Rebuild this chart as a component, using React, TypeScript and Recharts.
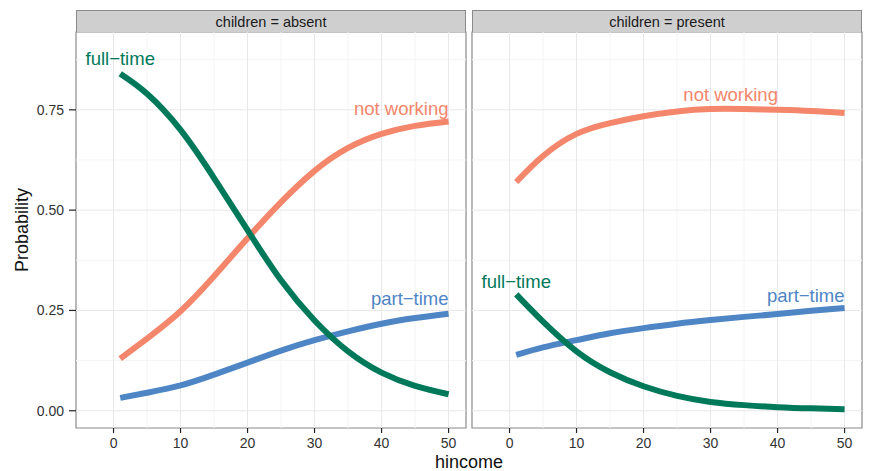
import React from 'react';
import { LineChart, Line, XAxis, YAxis, ReferenceLine, ReferenceArea, ReferenceDot } from 'recharts';

const hincome = [1, 5, 10, 15, 20, 25, 30, 35, 40, 45, 50];

const absentFull = [0.84, 0.79, 0.70, 0.58, 0.45, 0.325, 0.225, 0.148, 0.095, 0.062, 0.041];
const absentNot = [0.13, 0.18, 0.248, 0.335, 0.43, 0.52, 0.598, 0.655, 0.69, 0.71, 0.721];
const absentPart = [0.032, 0.045, 0.063, 0.09, 0.12, 0.15, 0.176, 0.198, 0.217, 0.231, 0.242];

const presentFull = [0.29, 0.222, 0.148, 0.096, 0.061, 0.037, 0.022, 0.014, 0.009, 0.006, 0.004];
const presentNot = [0.57, 0.635, 0.69, 0.717, 0.734, 0.746, 0.752, 0.752, 0.75, 0.747, 0.742];
const presentPart = [0.139, 0.158, 0.176, 0.193, 0.206, 0.217, 0.226, 0.234, 0.241, 0.249, 0.256];

const xTicks = [0, 10, 20, 30, 40, 50];
const xMinor = [5, 15, 25, 35, 45];
const yTicks = [0, 0.25, 0.5, 0.75];
const yMinor = [0.125, 0.375, 0.625, 0.875];
const yTickLabels = ['0.00', '0.25', '0.50', '0.75'];

const xDomain: [number, number] = [-5.6, 52.6];
const yDomain: [number, number] = [-0.043, 0.944];

const GREEN = '#00795A';
const CORAL = '#F4866B';
const BLUE = '#4E85C5';

type Lab = { text: string; x: number; y: number; anchor: 'start' | 'middle' | 'end'; color: string };

const absentLabels: Lab[] = [
  { text: 'full\u2212time', x: 1, y: 0.879, anchor: 'middle', color: GREEN },
  { text: 'not working', x: 50, y: 0.754, anchor: 'end', color: CORAL },
  { text: 'part\u2212time', x: 50, y: 0.279, anchor: 'end', color: BLUE },
];
const presentLabels: Lab[] = [
  { text: 'not working', x: 33, y: 0.787, anchor: 'middle', color: CORAL },
  { text: 'full\u2212time', x: 1, y: 0.323, anchor: 'middle', color: GREEN },
  { text: 'part\u2212time', x: 50, y: 0.288, anchor: 'end', color: BLUE },
];

const FONT = '"Liberation Sans", Arial, Helvetica, sans-serif';

function build(full: number[], not: number[], part: number[]) {
  return hincome.map((h, i) => ({ hincome: h, full: full[i], not: not[i], part: part[i] }));
}

function Panel(props: {
  data: any[];
  labels: Lab[];
  showY: boolean;
  width: number;
  margin: any;
}) {
  const { data, labels, showY, width, margin } = props;
  return (
    <LineChart width={width} height={471} data={data} margin={margin}>
      <XAxis
        dataKey="hincome"
        type="number"
        domain={xDomain}
        ticks={xTicks}
        allowDataOverflow
        axisLine={false}
        tickSize={5}
        tickMargin={5}
        height={30}
        tickLine={{ stroke: '#222', strokeWidth: 1.2 }}
        tick={{ fill: '#333', fontSize: 14, fontFamily: FONT }}
      />
      <YAxis
        type="number"
        domain={yDomain}
        ticks={yTicks}
        allowDataOverflow
        hide={!showY}
        width={76}
        axisLine={false}
        tickSize={7}
        tickMargin={5}
        tickFormatter={(v: number) => yTickLabels[yTicks.indexOf(v)] ?? String(v)}
        tickLine={{ stroke: '#222', strokeWidth: 1.2 }}
        tick={{ fill: '#333', fontSize: 14, fontFamily: FONT }}
      />
      {xMinor.map((v) => (
        <ReferenceLine key={'xm' + v} x={v} stroke="#f4f4f4" strokeWidth={1} />
      ))}
      {yMinor.map((v) => (
        <ReferenceLine key={'ym' + v} y={v} stroke="#f4f4f4" strokeWidth={1} />
      ))}
      {xTicks.map((v) => (
        <ReferenceLine key={'x' + v} x={v} stroke="#e8e8e8" strokeWidth={1} />
      ))}
      {yTicks.map((v) => (
        <ReferenceLine key={'y' + v} y={v} stroke="#e8e8e8" strokeWidth={1} />
      ))}
      <ReferenceArea
        x1={xDomain[0]}
        x2={xDomain[1]}
        y1={yDomain[0]}
        y2={yDomain[1]}
        fill="none"
        fillOpacity={0}
        stroke="#8a8a8a"
        strokeWidth={1.2}
      />
      <Line type="natural" dataKey="not" stroke={CORAL} strokeWidth={6} dot={false} isAnimationActive={false} />
      <Line type="natural" dataKey="part" stroke={BLUE} strokeWidth={6} dot={false} isAnimationActive={false} />
      <Line type="natural" dataKey="full" stroke={GREEN} strokeWidth={6} dot={false} isAnimationActive={false} />
      {labels.map((l) => (
        <ReferenceDot
          key={l.text}
          x={l.x}
          y={l.y}
          r={1}
          shape={(p: any) => (
            <text
              x={p.cx}
              y={p.cy}
              textAnchor={l.anchor}
              dominantBaseline="central"
              fill={l.color}
              fontSize={18.5}
              fontFamily={FONT}
            >
              {l.text}
            </text>
          )}
        />
      ))}
    </LineChart>
  );
}

function Strip(props: { left: number; width: number; text: string }) {
  return (
    <div
      style={{
        position: 'absolute',
        left: props.left,
        top: 10,
        width: props.width,
        height: 22,
        boxSizing: 'border-box',
        background: '#cfcfcf',
        border: '1.2px solid #8a8a8a',
        borderBottom: 'none',
        display: 'flex',
        alignItems: 'center',
        justifyContent: 'center',
        fontSize: 14.5,
        color: '#1a1a1a',
        fontFamily: FONT,
      }}
    >
      {props.text}
    </div>
  );
}

export default function App() {
  return (
    <div
      style={{
        position: 'absolute',
        left: 0,
        top: 0,
        width: 873,
        height: 471,
        background: '#fff',
        overflow: 'hidden',
        fontFamily: FONT,
      }}
    >
      <div style={{ position: 'absolute', left: 0, top: 0 }}>
        <Panel
          data={build(absentFull, absentNot, absentPart)}
          labels={absentLabels}
          showY
          width={470}
          margin={{ top: 32, right: 4, bottom: 13, left: 0 }}
        />
      </div>
      <div style={{ position: 'absolute', left: 470, top: 0 }}>
        <Panel
          data={build(presentFull, presentNot, presentPart)}
          labels={presentLabels}
          showY={false}
          width={403}
          margin={{ top: 32, right: 11, bottom: 13, left: 2 }}
        />
      </div>
      <Strip left={76} width={390} text="children = absent" />
      <Strip left={472} width={390} text="children = present" />
      <div
        style={{
          position: 'absolute',
          left: 22,
          top: 230,
          transform: 'translate(-50%, -50%) rotate(-90deg)',
          fontSize: 18,
          color: '#111',
          whiteSpace: 'nowrap',
        }}
      >
        Probability
      </div>
      <div
        style={{
          position: 'absolute',
          left: 469,
          top: 462,
          transform: 'translate(-50%, -50%)',
          fontSize: 18,
          color: '#111',
          whiteSpace: 'nowrap',
        }}
      >
        hincome
      </div>
    </div>
  );
}
